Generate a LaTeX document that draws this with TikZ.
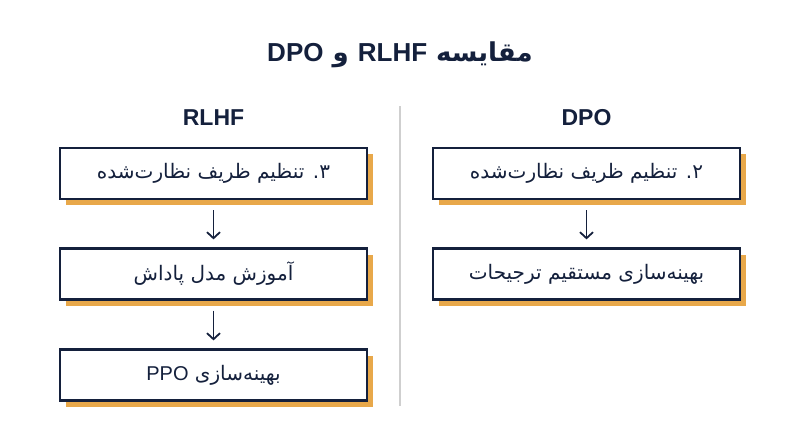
\documentclass[tikz,border=0pt]{standalone}
\usepackage{fontspec}
\setmainfont{Liberation Sans}
\newfontfamily\arabicfont[Script=Arabic]{DejaVu Sans}
\TeXXeTstate=1
\usetikzlibrary{shadows,arrows.meta}
\definecolor{navy}{HTML}{14203C}
\definecolor{amber}{HTML}{E8A84A}
\definecolor{divider}{HTML}{CFCFCF}
\newcommand\lat[1]{\beginL{\rmfamily #1}\endL{}}
\tikzset{
  stage/.style={draw=navy, line width=2.2pt, fill=white,
    minimum width=307pt, minimum height=51pt, text=navy,
    font=\arabicfont\fontsize{20}{24}\selectfont,
    drop shadow={shadow xshift=6pt, shadow yshift=-6pt, fill=amber, opacity=1}},
  column/.style={text=navy, font=\bfseries\fontsize{23}{27}\selectfont},
  flow/.style={-{Straight Barb[length=6pt,width=13pt]}, navy, line width=1.8pt,
    shorten <=10pt, shorten >=8pt}
}
\begin{document}
\begin{tikzpicture}[x=1pt,y=-1pt]
\useasboundingbox (0,0) rectangle (800,447);
% title and column heads
\node[text=navy, font=\arabicfont\bfseries\fontsize{26}{30}\selectfont] (title) at (400,55)
  {\beginR مقایسه \lat{RLHF} و \lat{DPO}\endR};
\node[column] (rlhf) at (213.5,118) {RLHF};
\node[column] (dpo) at (586.5,118) {DPO};
\draw[divider, line width=1.5pt] (400,106) -- (400,406);

% RLHF
\node[stage] (L1) at (213.5,173.5) {\beginR ۳. تنظیم ظریف نظارت‌شده\endR};
\node[stage] (L2) at (213.5,274) {\beginR آموزش مدل پاداش\endR};
\node[stage] (L3) at (213.5,375) {\beginR بهینه‌سازی \lat{PPO}\endR};

% DPO
\node[stage] (R1) at (586.5,173.5) {\beginR ۲. تنظیم ظریف نظارت‌شده\endR};
\node[stage] (R2) at (586.5,274) {\beginR بهینه‌سازی مستقیم ترجیحات\endR};

\foreach \a/\b in {L1/L2,L2/L3,R1/R2}
  \draw[flow] (\a) -- (\b);
\end{tikzpicture}
\end{document}
